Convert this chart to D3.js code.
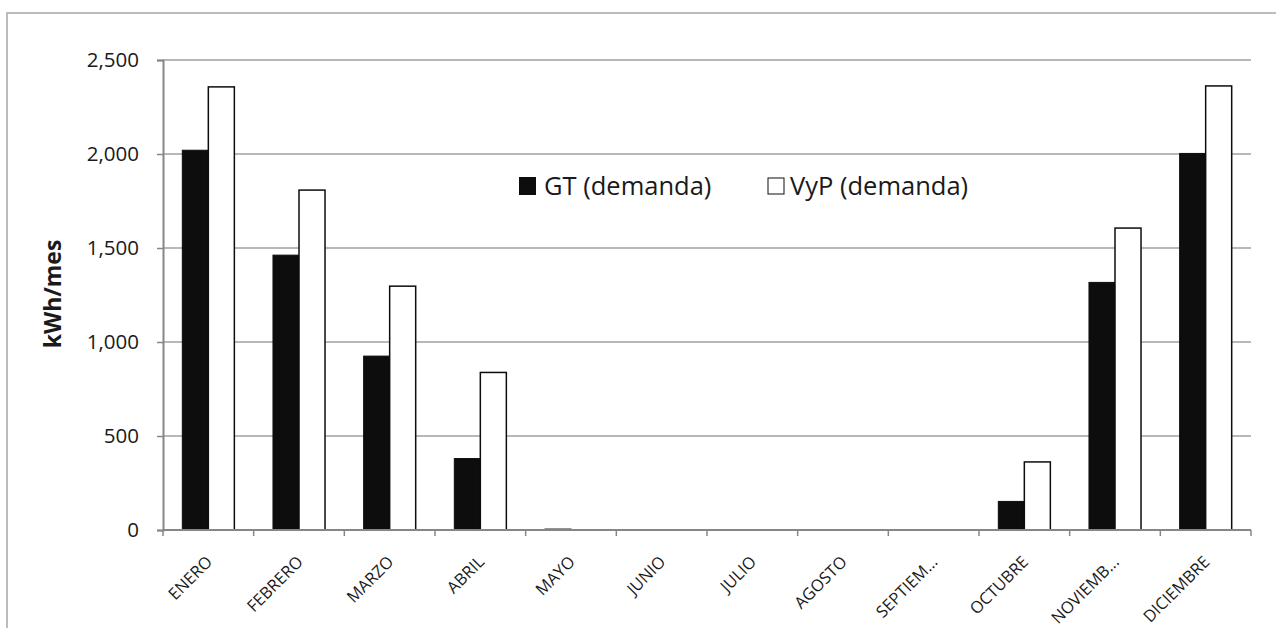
<!DOCTYPE html>
<html>
<head>
<meta charset="utf-8">
<script src="https://cdn.jsdelivr.net/npm/d3@7"></script>
<style>
  body { margin: 0; background: #fff; }
  svg { display: block; font-family: "Open Sans", sans-serif; }
</style>
</head>
<body>
<svg id="chart" width="1276" height="628"></svg>
<script>
// data
const months = ['ENERO', 'FEBRERO', 'MARZO', 'ABRIL', 'MAYO', 'JUNIO', 'JULIO', 'AGOSTO', 'SEPTIEM...', 'OCTUBRE', 'NOVIEMB...', 'DICIEMBRE'];
const gtValues = [2020, 1462, 925, 380, 5, 0, 0, 0, 0, 152, 1317, 2003];
const vypValues = [2357, 1808, 1297, 838, 0, 0, 0, 0, 0, 362, 1606, 2362];
const seriesNames = ['GT (demanda)', 'VyP (demanda)'];
const yTicks = [0, 500, 1000, 1500, 2000, 2500];

const svg = d3.select('#chart');
const margin = { left: 163, top: 60, right: 25, bottom: 98 };
const width = 1276 - margin.left - margin.right;
const height = 628 - margin.top - margin.bottom;

// outer chart border (runs off the right and bottom edges)
svg.append('rect')
  .attr('x', 7).attr('y', 13)
  .attr('width', 1300).attr('height', 700)
  .attr('fill', 'none').attr('stroke', '#a6a6a6').attr('stroke-width', 1.5);

const g = svg.append('g').attr('transform', `translate(${margin.left},${margin.top})`);

const x = d3.scaleBand().domain(months).range([0, width]).padding(0);
const y = d3.scaleLinear().domain([0, 2500]).range([height, 0]);
const groupW = x.bandwidth() * 0.574;
const x1 = d3.scaleBand().domain([0, 1]).range([0, groupW]);

// gridlines
g.append('g')
  .selectAll('line')
  .data(yTicks.slice(1))
  .enter().append('line')
  .attr('x1', 0).attr('x2', width)
  .attr('y1', (d) => y(d)).attr('y2', (d) => y(d))
  .attr('stroke', '#a0a0a0').attr('stroke-width', 1.5);

// bars
const rows = months.map((m, i) => ({ month: m, vals: [gtValues[i], vypValues[i]] }));
const groups = g.selectAll('.grp').data(rows).enter().append('g')
  .attr('transform', (d) => `translate(${x(d.month) + (x.bandwidth() - groupW) / 2},0)`);

groups.selectAll('rect')
  .data((d) => d.vals.map((v, k) => ({ v, k })))
  .enter().append('rect')
  .filter((d) => d.v > 0)
  .attr('x', (d) => x1(d.k))
  .attr('width', x1.bandwidth())
  .attr('y', (d) => y(d.v))
  .attr('height', (d) => height - y(d.v))
  .attr('fill', (d) => (d.k === 0 ? '#0d0d0d' : '#ffffff'))
  .attr('stroke', '#0d0d0d')
  .attr('stroke-width', (d) => (d.k === 0 ? 1 : 1.5));

// y axis
const yAxis = g.append('g')
  .call(d3.axisLeft(y).tickValues(yTicks).tickSize(6).tickPadding(18).tickFormat(d3.format(',')));
yAxis.select('.domain').attr('stroke', '#868686').attr('stroke-width', 2);
yAxis.selectAll('.tick line').attr('stroke', '#868686').attr('stroke-width', 1.5);
yAxis.selectAll('text').attr('font-size', 20.5).attr('fill', '#1a1a1a').attr('font-family', '"Open Sans", sans-serif');

// x axis: ticks on band boundaries
const xAxisG = g.append('g').attr('transform', `translate(0,${height})`);
xAxisG.append('line')
  .attr('x1', 0).attr('x2', width)
  .attr('stroke', '#868686').attr('stroke-width', 2);
xAxisG.selectAll('.bt')
  .data(months.concat(['end']))
  .enter().append('line')
  .attr('x1', (d, i) => (i < months.length ? x(d) : width))
  .attr('x2', (d, i) => (i < months.length ? x(d) : width))
  .attr('y1', 0).attr('y2', 6)
  .attr('stroke', '#868686').attr('stroke-width', 1.5);

xAxisG.selectAll('.lbl')
  .data(months)
  .enter().append('text')
  .attr('x', 0).attr('y', 0)
  .attr('transform', (d) => `translate(${x(d) + x.bandwidth() / 2 + 5},${33}) rotate(-45)`)
  .attr('text-anchor', 'end')
  .attr('font-size', 16.5)
  .attr('fill', '#1a1a1a')
  .text((d) => d);

// y axis title
svg.append('text')
  .attr('transform', 'translate(61,294) rotate(-90)')
  .attr('text-anchor', 'middle')
  .attr('font-size', 23)
  .attr('font-weight', 'bold')
  .attr('fill', '#1a1a1a')
  .text('kWh/mes');

// legend
const legend = svg.append('g').attr('transform', 'translate(519,177)');
const legX = [0, 249];
seriesNames.forEach((name, i) => {
  legend.append('rect')
    .attr('x', legX[i]).attr('y', i === 0 ? 0 : 1)
    .attr('width', i === 0 ? 17 : 16).attr('height', i === 0 ? 18 : 16)
    .attr('fill', i === 0 ? '#0d0d0d' : '#fff')
    .attr('stroke', '#0d0d0d').attr('stroke-width', i === 0 ? 0 : 1);
  legend.append('text')
    .attr('x', legX[i] + (i === 0 ? 25 : 22)).attr('y', 18)
    .attr('font-size', 25.5)
    .attr('fill', '#1a1a1a')
    .text(name);
});
</script>
</body>
</html>
